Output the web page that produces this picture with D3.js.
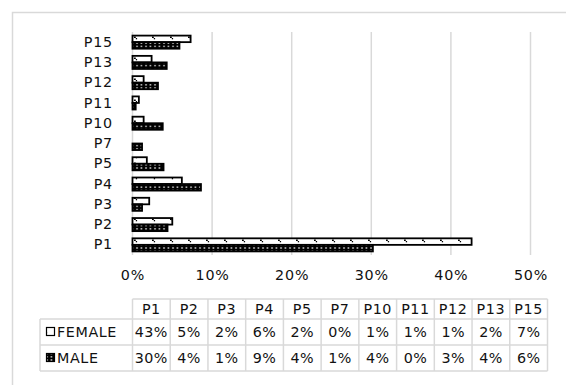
<!DOCTYPE html>
<html>
<head>
<meta charset="utf-8">
<script src="https://cdn.jsdelivr.net/npm/d3@7/dist/d3.min.js"></script>
<style>
  html, body { margin: 0; padding: 0; background: #fff; }
  svg { display: block; font-family: "DejaVu Sans", sans-serif; }
</style>
</head>
<body>
<svg id="chart" width="566" height="385"></svg>
<script>
// Share of respondents per item, by gender
const categories = ["P1", "P2", "P3", "P4", "P5", "P7", "P10", "P11", "P12", "P13", "P15"];
const seriesNames = ["FEMALE", "MALE"];
const femaleValues = [0.426, 0.050, 0.021, 0.062, 0.018, 0.000, 0.014, 0.008, 0.014, 0.024, 0.073];
const maleValues   = [0.302, 0.044, 0.012, 0.086, 0.039, 0.012, 0.038, 0.004, 0.032, 0.043, 0.059];
const xTicks = [0, 0.1, 0.2, 0.3, 0.4, 0.5];

const svg = d3.select("#chart");
const grid = "#d9d9d9";
const ink = "#111";
const fontSize = 14.3;
const pct = d3.format(".0%");

// Fill patterns for the two series
const defs = svg.append("defs");
const pf = defs.append("pattern").attr("id", "pat-female")
  .attr("patternUnits", "userSpaceOnUse").attr("width", 18).attr("height", 7);
pf.append("rect").attr("width", 18).attr("height", 7).attr("fill", "#fff");
pf.append("rect").attr("x", 8).attr("y", 1.5).attr("width", 1.8).attr("height", 1.5).attr("fill", "#000");
pf.append("rect").attr("x", 9.8).attr("y", 3).attr("width", 1.3).attr("height", 1.3).attr("fill", "#000");

const pm = defs.append("pattern").attr("id", "pat-male")
  .attr("patternUnits", "userSpaceOnUse").attr("width", 4.5).attr("height", 3.2);
pm.append("rect").attr("width", 4.5).attr("height", 3.2).attr("fill", "#000");
pm.append("rect").attr("x", 1.2).attr("y", 1).attr("width", 1.6).attr("height", 1.2).attr("fill", "#fff");

const fills = { FEMALE: "url(#pat-female)", MALE: "url(#pat-male)" };

// Chart frame
svg.append("rect").attr("x", 12.5).attr("y", 12.5).attr("width", 570).attr("height", 390)
  .attr("fill", "none").attr("stroke", grid).attr("stroke-width", 1.5);

// Scales
const x = d3.scaleLinear().domain([0, 0.5]).range([132.5, 530.5]);
const y = d3.scaleBand().domain(categories.slice().reverse()).range([32, 255]).padding(0);
const sub = d3.scaleBand().domain(seriesNames).range([0, y.bandwidth()]).paddingInner(0).paddingOuter(0.55);

// Vertical gridlines
svg.append("g").selectAll("line").data(xTicks).join("line")
  .attr("x1", d => x(d)).attr("x2", d => x(d))
  .attr("y1", 32).attr("y2", 255)
  .attr("stroke", grid).attr("stroke-width", 1.5);

function styleText(sel, spacing) {
  sel.attr("font-size", fontSize).attr("fill", ink)
    .attr("letter-spacing", spacing).attr("font-family", "DejaVu Sans, sans-serif");
}

// X axis labels
const xAxis = d3.axisBottom(x).tickValues(xTicks).tickFormat(pct).tickSize(0).tickPadding(0);
const gx = svg.append("g").attr("transform", "translate(0,270)").call(xAxis);
gx.select(".domain").remove();
styleText(gx.selectAll("text"), 0.8);

// Category labels
const yAxis = d3.axisLeft(y).tickSize(0).tickPadding(0);
const gy = svg.append("g").attr("transform", "translate(113,0)").call(yAxis);
gy.select(".domain").remove();
styleText(gy.selectAll("text"), 0.8);

// Bars
const rows = categories.map((c, i) => ({ cat: c, FEMALE: femaleValues[i], MALE: maleValues[i] }));
const barG = svg.append("g");
seriesNames.forEach(s => {
  barG.append("g").selectAll("rect").data(rows.filter(d => d[s] > 0)).join("rect")
    .attr("x", x(0))
    .attr("y", d => y(d.cat) + sub(s))
    .attr("width", d => x(d[s]) - x(0))
    .attr("height", sub.bandwidth())
    .attr("fill", fills[s])
    .attr("stroke", "#000").attr("stroke-width", 1.8);
});

// Data table
const colX = d3.scaleBand().domain(categories).range([132.5, 547.5]);
const rowY = [299, 319, 345, 371];
const tbl = svg.append("g");
const labelLeft = 40;

// horizontal rules
tbl.append("line").attr("x1", colX.range()[0]).attr("x2", colX.range()[1])
  .attr("y1", rowY[0]).attr("y2", rowY[0]).attr("stroke", grid).attr("stroke-width", 1.5);
[rowY[1], rowY[2], rowY[3]].forEach(yy => {
  tbl.append("line").attr("x1", labelLeft).attr("x2", colX.range()[1])
    .attr("y1", yy).attr("y2", yy).attr("stroke", grid).attr("stroke-width", 1.5);
});
// vertical rules
categories.concat(["_end"]).forEach((c, i) => {
  const xx = i < categories.length ? colX(c) : colX.range()[1];
  tbl.append("line").attr("x1", xx).attr("x2", xx)
    .attr("y1", rowY[0]).attr("y2", rowY[3]).attr("stroke", grid).attr("stroke-width", 1.5);
});
tbl.append("line").attr("x1", labelLeft).attr("x2", labelLeft)
  .attr("y1", rowY[1]).attr("y2", rowY[3]).attr("stroke", grid).attr("stroke-width", 1.5);

// header
styleText(tbl.selectAll("text.head").data(categories).join("text").attr("class", "head")
  .attr("x", d => colX(d) + colX.bandwidth() / 2).attr("y", (rowY[0] + rowY[1]) / 2)
  .attr("dy", "0.35em").attr("text-anchor", "middle").text(d => d), 0.6);

// series rows
const seriesValues = { FEMALE: femaleValues, MALE: maleValues };
seriesNames.forEach((s, r) => {
  const cy = (rowY[r + 1] + rowY[r + 2]) / 2;
  tbl.append("rect").attr("x", 46.5).attr("y", cy - 4.5).attr("width", 8).attr("height", 8)
    .attr("fill", fills[s]).attr("stroke", "#000").attr("stroke-width", 1.2);
  styleText(tbl.append("text").attr("x", 57).attr("y", cy).attr("dy", "0.35em").text(s), 0.6);
  styleText(tbl.append("g").selectAll("text").data(categories).join("text")
    .attr("x", d => colX(d) + colX.bandwidth() / 2).attr("y", cy).attr("dy", "0.35em")
    .attr("text-anchor", "middle")
    .text((d, i) => pct(seriesValues[s][i])), 0.4);
});
</script>
</body>
</html>
